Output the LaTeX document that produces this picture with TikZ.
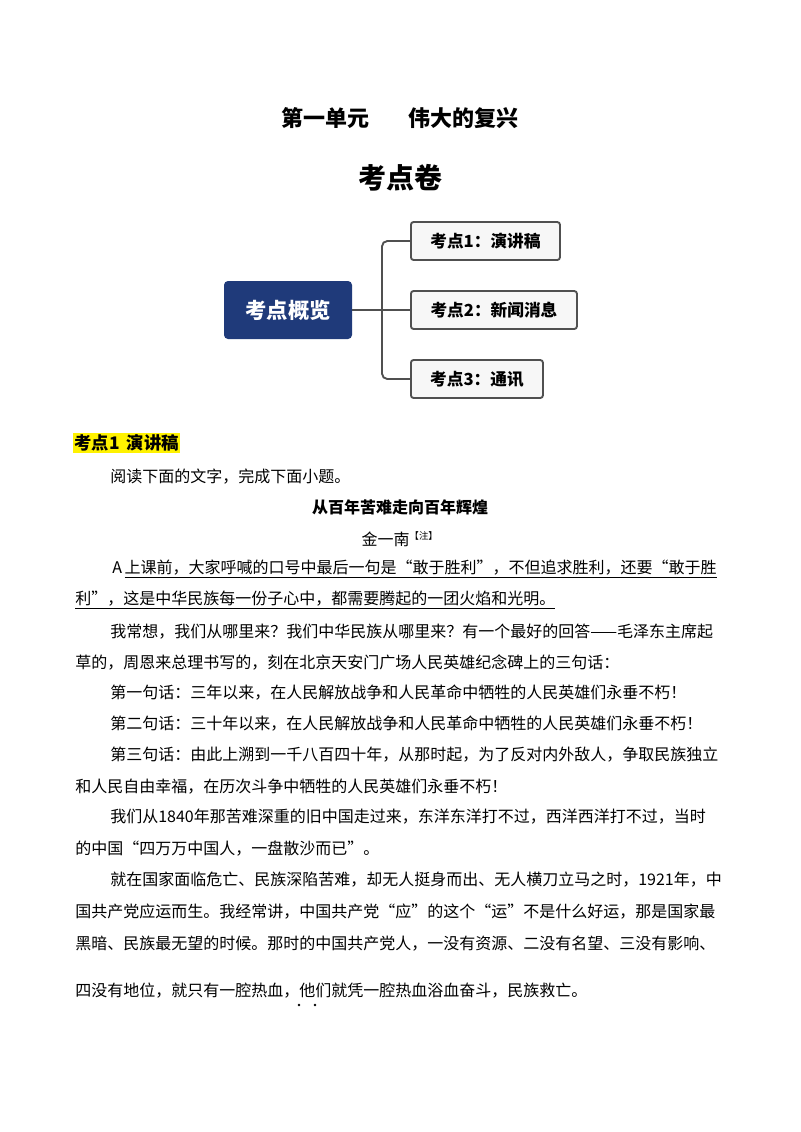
\documentclass[tikz,border=0pt]{standalone}
\usepackage{fontspec}
\setmainfont{Noto Sans CJK SC}
\definecolor{navy}{HTML}{1F3A7A}
\definecolor{boxbg}{HTML}{F7F7F7}
\definecolor{linegray}{HTML}{505050}
\tikzset{
  body/.style={anchor=west,inner sep=0pt,font=\fontsize{12}{12}\selectfont},
  topic/.style={draw=linegray,line width=1.4pt,fill=boxbg,rounded corners=2pt,minimum height=28.5pt,anchor=west,inner sep=0pt,font=\fontsize{12.5}{13}\bfseries\selectfont},
  conn/.style={draw=linegray,line width=1.4pt,rounded corners=4pt}
}
\begin{document}
\begin{tikzpicture}[x=0.75pt,y=-0.75pt]
\useasboundingbox (0,0) rectangle (800,1132);
\fill[white] (0,0) rectangle (800,1132);
\node[font=\fontsize{16.5}{17}\bfseries\selectfont] (t1) at (400,118) {第一单元\hspace{1.8em}伟大的复兴};
\node[font=\fontsize{21}{22}\bfseries\selectfont] (t2) at (400,178) {考点卷};
% mind map
\node[fill=navy,rounded corners=3pt,minimum width=96pt,minimum height=43.5pt,text=white,font=\fontsize{16}{17}\bfseries\selectfont] (c) at (288,310) {考点概览};
\node[topic,minimum width=111.75pt] (k1) at (410,241) {考点1：演讲稿};
\node[topic,minimum width=124.5pt] (k2) at (410,310) {考点2：新闻消息};
\node[topic,minimum width=99pt] (k3) at (410,379) {考点3：通讯};
\coordinate (j) at (382,310);
\draw[conn] (c.east) -- (k2.west);
\draw[conn] (k1.west) -| (j) |- (k3.west);
% section heading
\node[fill=yellow,anchor=west,inner sep=1pt,font=\fontsize{13}{14}\bfseries\selectfont] (h) at (73,443) {考点1\hspace{0.4em}演讲稿};
\node[body] (p0) at (110,477) {阅读下面的文字，完成下面小题。};
\node[font=\fontsize{12}{12}\bfseries\selectfont] (ti) at (400,507) {从百年苦难走向百年辉煌};
\node[font=\fontsize{12}{12}\selectfont] (au) at (400,539) {金一南\textsuperscript{\fontsize{7}{7}\selectfont【注】}};
\node[body] (a1) at (112,569) {A\,\underline{上课前，大家呼喊的口号中最后一句是“敢于胜利”，不但追求胜利，还要“敢于胜}};
\node[body] (a2) at (75,600) {\underline{利”，这是中华民族每一份子心中，都需要腾起的一团火焰和光明。}};
\node[body] (l1) at (110,632) {我常想，我们从哪里来？我们中华民族从哪里来？有一个最好的回答——毛泽东主席起};
\node[body] (l2) at (75,662) {草的，周恩来总理书写的，刻在北京天安门广场人民英雄纪念碑上的三句话：};
\node[body] (l3) at (110,693) {第一句话：三年以来，在人民解放战争和人民革命中牺牲的人民英雄们永垂不朽！};
\node[body] (l4) at (110,724) {第二句话：三十年以来，在人民解放战争和人民革命中牺牲的人民英雄们永垂不朽！};
\node[body] (l5) at (110,755) {第三句话：由此上溯到一千八百四十年，从那时起，为了反对内外敌人，争取民族独立};
\node[body] (l6) at (75,787) {和人民自由幸福，在历次斗争中牺牲的人民英雄们永垂不朽！};
\node[body] (l7) at (110,817) {我们从1840年那苦难深重的旧中国走过来，东洋东洋打不过，西洋西洋打不过，当时};
\node[body] (l8) at (75,849) {的中国“四万万中国人，一盘散沙而已”。};
\node[body] (l9) at (110,880) {就在国家面临危亡、民族深陷苦难，却无人挺身而出、无人横刀立马之时，1921年，中};
\node[body] (l10) at (75,912) {国共产党应运而生。我经常讲，中国共产党“应”的这个“运”不是什么好运，那是国家最};
\node[body] (l11) at (75,944) {黑暗、民族最无望的时候。那时的中国共产党人，一没有资源、二没有名望、三没有影响、};
\node[body] (l12) at (75,991) {四没有地位，就只有一腔热血，他们就凭一腔热血浴血奋斗，民族救亡。};
\fill (299,1005) circle (1.3) (315,1005) circle (1.3);
\end{tikzpicture}
\end{document}
